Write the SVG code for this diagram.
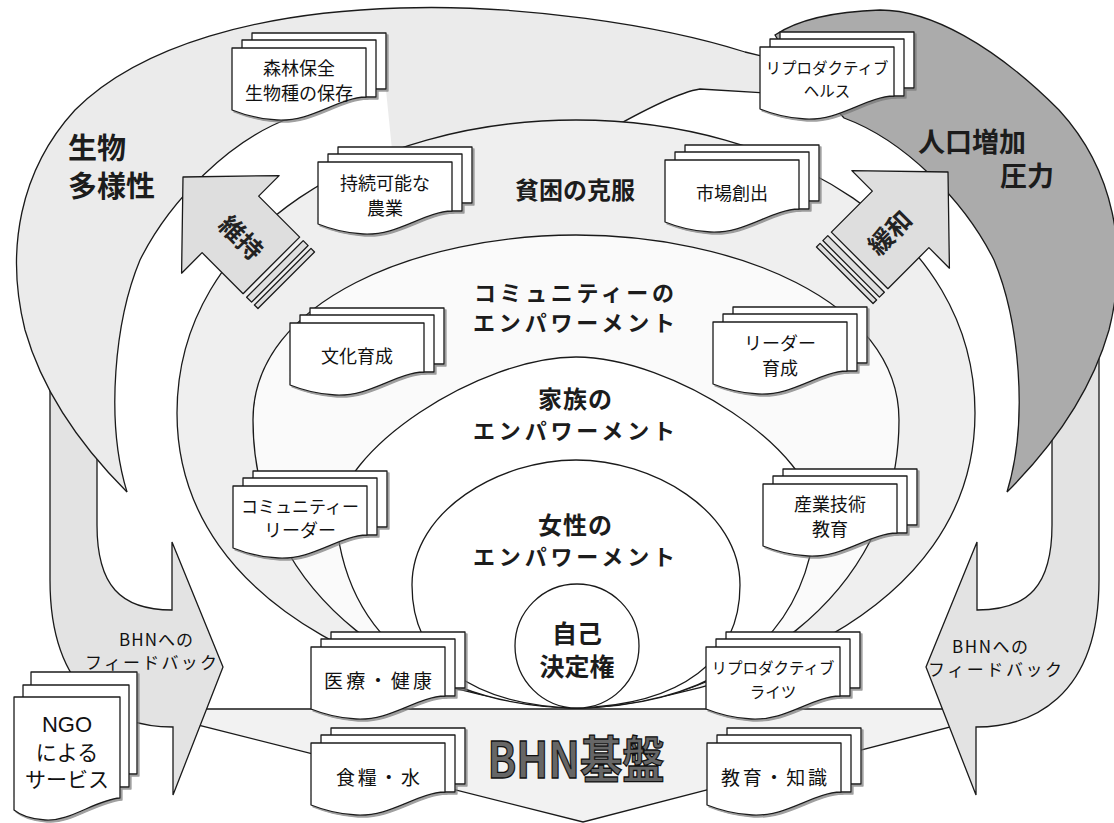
<svg xmlns="http://www.w3.org/2000/svg" width="1114" height="823" viewBox="0 0 1114 823">
<style>
.ln{fill:none;stroke:#1a1a1a;stroke-width:1.3;stroke-linejoin:round}
.sheet{fill:#fff;stroke:#1a1a1a;stroke-width:1.3;stroke-linejoin:round}
.blk{fill:#dedede;stroke:#1a1a1a;stroke-width:1.3;stroke-linejoin:round}
text{font-family:'Noto Sans CJK JP','Noto Sans',sans-serif;fill:#111;dominant-baseline:central;text-anchor:middle}
.bx{font-size:18px}
.sm{font-size:15.5px}
.hd{font-weight:bold;font-size:24px;fill:#1c1c1c}
.big{font-weight:bold;font-size:29px;fill:#1c1c1c;text-anchor:start}
.fb{font-size:17px}
</style>
<defs>
<filter id="sh" x="-10%" y="-10%" width="130%" height="130%">
<feDropShadow dx="2" dy="2" stdDeviation="0.7" flood-color="#777" flood-opacity="0.7"/>
</filter>
<g id="doc">
<rect x="20" y="-15" width="134" height="56" class="sheet"/>
<rect x="10" y="-8" width="134" height="57" class="sheet"/>
<path d="M0,0 H134 V49 C105,50 80,74 45,72 C25,71 10,66 0,62 Z" class="sheet"/>
</g>
<g id="blkarrow">
<path class="blk" d="M0,0 L69,67 L40,67 L40,125 L-40,125 L-40,67 L-69,67 Z"/>
<rect class="blk" x="-40" y="130" width="80" height="7"/>
<rect class="blk" x="-40" y="141" width="80" height="5"/>
</g>
</defs>
<rect width="1114" height="823" fill="#fff"/>

<g id="bhn-band">
<path d="M170,709 L985,709 L985,718 L583,822 L170,718 Z" fill="#f2f2f2" stroke="#1a1a1a" stroke-width="1.3"/>
</g>

<g id="feedback-left">
<path d="M50,340 L97,340 L97,525 C97,585 120,610 172,610 L172,542 L223,667 L173,795 L173,727 C120,727 50,700 50,580 Z" fill="#e3e3e3" stroke="#1a1a1a" stroke-width="1.3"/>
<text class="fb" x="156" y="638" textLength="74">BHNへの</text>
<text class="fb" x="151" y="661" textLength="132">フィードバック</text>
</g>
<g id="feedback-right">
<path d="M1099,340 L1052,340 L1052,525 C1052,585 1029,610 977,610 L977,542 L926,667 L976,795 L976,727 C1029,727 1099,700 1099,580 Z" fill="#e3e3e3" stroke="#1a1a1a" stroke-width="1.3"/>
<text class="fb" x="990" y="645" textLength="76">BHNへの</text>
<text class="fb" x="995" y="668" textLength="134">フィードバック</text>
</g>

<g id="biodiversity">
<path d="M127,492 C90,455 45,400 25,330 C5,250 20,170 75,110 C140,45 260,12 400,8 C520,4 660,25 745,52 L790,60 L790,93 L765,93 L700,89 C680,92 640,112 600,135 L560,160 L420,175 L392,150 L386,90 L290,110 L290,118 C230,140 170,200 140,260 C115,320 105,420 127,492 Z" fill="#ebebeb"/>
<path class="ln" d="M127,492 C90,455 45,400 25,330 C5,250 20,170 75,110 C140,45 260,12 400,8 C520,4 660,25 745,52 L770,58"/>
<path class="ln" d="M290,118 C230,140 170,200 140,260 C115,320 105,420 127,492"/>
<path class="ln" d="M600,135 C640,112 680,92 700,89 L765,93"/>
<text class="big" x="68" y="146">生物</text>
<text class="big" x="68" y="184">多様性</text>
</g>

<g id="population">
<path d="M1007,492 C1044,455 1089,400 1109,330 C1129,250 1114,170 1059,110 C994,45 930,10 880,10 C820,12 790,25 775,35 L790,60 L844,118 C904,140 964,200 994,260 C1019,320 1029,420 1007,492 Z" fill="#ababab" stroke="#1a1a1a" stroke-width="1.3"/>
<text class="big" x="918" y="140" style="font-size:27px">人口増加</text>
<text class="big" x="1000" y="174" style="font-size:27px">圧力</text>
</g>

<g id="ring-poverty">
<path d="M576,708 C430,700 177,620 177,413 C177,230 370,120 576,120 C782,120 975,230 975,413 C975,620 722,700 576,708 Z" fill="#efefef" stroke="#1a1a1a" stroke-width="1.3"/>
<text class="hd" x="575" y="188">貧困の克服</text>
</g>
<g id="ring-community">
<path d="M576,708 C420,705 253,600 253,420 C253,300 420,235 576,235 C732,235 899,300 899,420 C899,600 732,705 576,708 Z" fill="#fafafa" stroke="#1a1a1a" stroke-width="1.3"/>
<text class="hd" x="574" y="291" style="font-size:22px" textLength="200">コミュニティーの</text>
<text class="hd" x="574" y="321" style="font-size:22px" textLength="202">エンパワーメント</text>
</g>
<g id="ring-family">
<path d="M576,708 C470,706 350,665 336,520 C336,450 480,357 576,357 C672,357 816,450 816,520 C802,665 682,706 576,708 Z" fill="#fff" stroke="#1a1a1a" stroke-width="1.3"/>
<text class="hd" x="575" y="397" textLength="74">家族の</text>
<text class="hd" x="574" y="429" style="font-size:22px" textLength="202">エンパワーメント</text>
</g>
<g id="ring-women">
<path d="M576,708 C470,705 412,660 412,585 C412,510 500,460 576,460 C652,460 740,510 740,585 C740,660 682,705 576,708 Z" fill="#fff" stroke="#1a1a1a" stroke-width="1.3"/>
<text class="hd" x="575" y="523" textLength="74">女性の</text>
<text class="hd" x="574" y="555" style="font-size:22px" textLength="202">エンパワーメント</text>
</g>
<g id="self-determination">
<circle cx="577" cy="646" r="62" fill="#fff" stroke="#1a1a1a" stroke-width="1.3"/>
<text class="hd" x="577" y="632" style="font-size:25px">自己</text>
<text class="hd" x="577" y="665" style="font-size:25px">決定権</text>
</g>

<g id="bhn-label">
<text x="576" y="756" style="font-size:50px;font-weight:bold;fill:#666;stroke:#111;stroke-width:1.3" textLength="177" lengthAdjust="spacingAndGlyphs">BHN基盤</text>
</g>

<g id="connectors">
<g transform="translate(183,177) rotate(-45)">
<use href="#blkarrow"/>
<text class="hd" x="0" y="0" transform="translate(0,84) rotate(90)" style="font-size:25px;fill:#222">維持</text>
</g>
<g transform="translate(948,172) rotate(45)">
<use href="#blkarrow"/>
<text class="hd" x="0" y="0" transform="translate(0,84) rotate(-90)" style="font-size:25px;fill:#222">緩和</text>
</g>
</g>

<g id="node-forest"><use href="#doc" x="232" y="48" filter="url(#sh)"/><text class="bx" x="299" y="67">森林保全</text><text class="bx" x="299" y="92">生物種の保存</text></g>
<g id="node-rhealth"><use href="#doc" x="760" y="47" filter="url(#sh)"/><text class="sm" x="827" y="67">リプロダクティブ</text><text class="sm" x="827" y="90">ヘルス</text></g>
<g id="node-agri"><use href="#doc" x="318" y="162" filter="url(#sh)"/><text class="bx" x="385" y="182">持続可能な</text><text class="bx" x="385" y="207">農業</text></g>
<g id="node-market"><use href="#doc" x="665" y="160" filter="url(#sh)"/><text class="bx" x="732" y="192">市場創出</text></g>
<g id="node-culture"><use href="#doc" x="290" y="323" filter="url(#sh)"/><text class="bx" x="357" y="355">文化育成</text></g>
<g id="node-leader"><use href="#doc" x="713" y="322" filter="url(#sh)"/><text class="bx" x="780" y="342">リーダー</text><text class="bx" x="780" y="367">育成</text></g>
<g id="node-cleader"><use href="#doc" x="233" y="486" filter="url(#sh)"/><text class="bx" x="300" y="505" style="font-size:17px">コミュニティー</text><text class="bx" x="300" y="529">リーダー</text></g>
<g id="node-industry"><use href="#doc" x="763" y="484" filter="url(#sh)"/><text class="bx" x="830" y="503">産業技術</text><text class="bx" x="830" y="528">教育</text></g>
<g id="node-medical"><use href="#doc" x="311" y="647" filter="url(#sh)"/><text class="bx" x="378" y="679" style="font-size:19px" textLength="108">医療・健康</text></g>
<g id="node-food"><use href="#doc" x="311" y="743" filter="url(#sh)"/><text class="bx" x="378" y="776" style="font-size:19px" textLength="84">食糧・水</text></g>
<g id="node-rrights"><use href="#doc" x="706" y="647" filter="url(#sh)"/><text class="sm" x="773" y="667">リプロダクティブ</text><text class="sm" x="773" y="691">ライツ</text></g>
<g id="node-edu"><use href="#doc" x="707" y="743" filter="url(#sh)"/><text class="bx" x="774" y="776" style="font-size:19px" textLength="106">教育・知識</text></g>
<g id="node-ngo">
<g filter="url(#sh)">
<rect x="31" y="672" width="106" height="102" class="sheet"/>
<rect x="23" y="685" width="106" height="102" class="sheet"/>
<path d="M14,697 H120 V798 C95,800 70,822 45,820 C30,819 20,815 14,810 Z" class="sheet"/>
</g>
<text x="67" y="724" style="font-family:'Liberation Sans',sans-serif;font-size:22px">NGO</text>
<text x="67" y="751" style="font-size:21px">による</text>
<text x="67" y="778" style="font-size:21px">サービス</text>
</g>
</svg>
